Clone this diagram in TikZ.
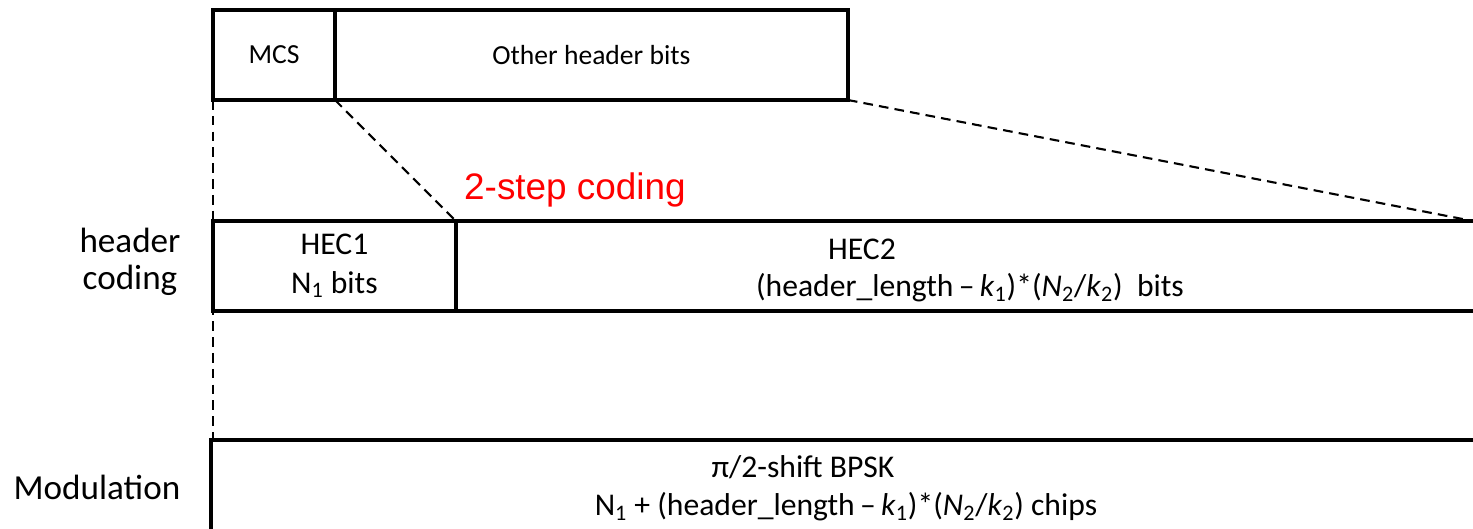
\documentclass[tikz,border=0pt]{standalone}
\usepackage{fontspec}
\setmainfont{Carlito}
\newfontfamily\arialfont{Liberation Sans}
\tikzset{
  field/.style={draw, line width=2.2pt, inner sep=0pt, outer sep=0pt, anchor=north west},
  guide/.style={line width=1.2pt, dash pattern=on 5.5pt off 3.5pt},
  small/.style={font=\fontsize{15.7}{19}\selectfont},
  mid/.style={font=\fontsize{18}{22}\selectfont, align=center},
  big/.style={font=\fontsize{20}{21}\selectfont, align=center},
}

\begin{document}
\begin{tikzpicture}[x=0.02cm, y=-0.02cm]
\useasboundingbox (0,0) rectangle (1473,528);
% header fields
\node[field, minimum width=2.44cm, minimum height=1.8cm] (mcs) at (213,10) {};
\node[field, minimum width=10.26cm, minimum height=1.8cm] (other) at (mcs.north east) {};
\node[small] (mcstxt) at (mcs.center) {MCS};
\node[small] (othertxt) at (other.center) {Other header bits};
% coded header
\node[field, minimum width=4.86cm, minimum height=1.8cm] (hec1) at (213,221) {};
\node[field, minimum width=22cm, minimum height=1.8cm] (hec2) at (hec1.north east) {};
\node[mid] (hec1txt) at (hec1.center) {HEC1\\N\textsubscript{1} bits};
\node[mid] (hec2a) at (862,249) {HEC2};
\node[mid] (hec2b) at (970,288) {(header\_length\,--\,\textit{k}\textsubscript{1})*(\textit{N}\textsubscript{2}/\textit{k}\textsubscript{2})~~bits};
% modulation
\node[field, minimum width=26cm, minimum height=3cm] (mod) at (211,440) {};
\node[mid] (moda) at (803,467) {π/2-shift BPSK};
\node[mid] (modb) at (846,507) {N\textsubscript{1} + (header\_length\,--\,\textit{k}\textsubscript{1})*(\textit{N}\textsubscript{2}/\textit{k}\textsubscript{2}) chips};
% row labels
\node[big] (lblcoding) at (130,262) {header\\coding};
\node[big] (lblmod) at (97,487) {Modulation};
\node[anchor=west, text=red, font=\arialfont\fontsize{21}{24}\selectfont] (twostep) at (458,190) {2-step coding};
% zoom guides
\coordinate (rim) at (1473,221);
\draw[guide] (mcs.south west) -- (mcs.south west |- mod.north);
\draw[guide] (mcs.south east) -- (hec1.north east);
\draw[guide] (other.south east) -- (rim);
\end{tikzpicture}
\end{document}
